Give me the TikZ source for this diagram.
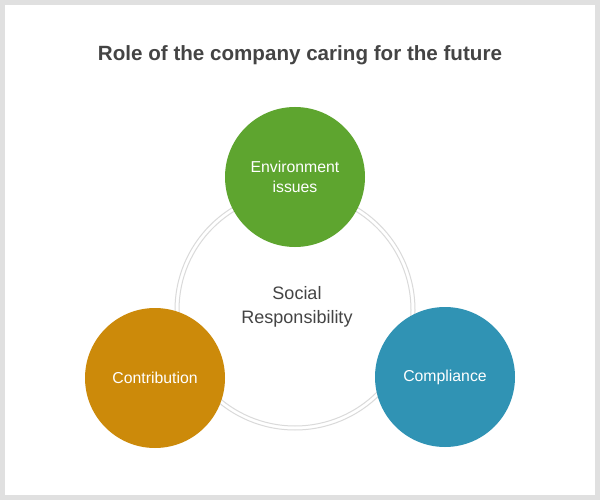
\documentclass[tikz,border=0pt]{standalone}
\usepackage{fontspec}
\setmainfont{Liberation Sans}
\usetikzlibrary{positioning}

\begin{document}
\begin{tikzpicture}[x=1pt,y=-1pt]
      % colours
      \definecolor{framecolor}{RGB}{224,224,224}   % outer frame
      \definecolor{ringcolor}{RGB}{218,218,218}    % light ring
      \definecolor{textcolor}{RGB}{68,68,68}       % dark gray text
      \definecolor{envcolor}{RGB}{94,165,47}       % green
      \definecolor{contcolor}{RGB}{204,138,10}     % orange
      \definecolor{compcolor}{RGB}{48,147,180}     % teal

      % styles
      \tikzstyle{topic} = [circle, minimum size=140pt, inner sep=0pt, text=white, align=center, draw=none, font=\fontsize{15.8}{20}\selectfont]
      \tikzstyle{ring} = [circle, draw=ringcolor, line width=1pt, inner sep=0pt]

      % frame
      \fill[framecolor] (0,0) rectangle (600,500);
      \fill[white] (5,5) rectangle (595,495);

      % title
      \node[text=textcolor, font=\fontsize{20.6}{24}\selectfont\bfseries] (title) at (300,55) {Role of the company caring for the future};

      % centre: double ring
      \node[ring, minimum size=240pt] (ringout) at (295,310) {};
      \node[ring, minimum size=232pt] (ringin) at (295,310) {};
      \node[text=textcolor, align=center, font=\fontsize{18}{24}\selectfont] (social) at (297,307) {Social\\Responsibility};

      % three topics
      \node[topic, fill=envcolor] (env) at (295,177) {Environment\\issues};
      \node[topic, fill=contcolor] (contrib) at (155,378) {Contribution};
      \node[topic, fill=compcolor] (compl) at (445,377) {Compliance};
    \end{tikzpicture}
\end{document}
